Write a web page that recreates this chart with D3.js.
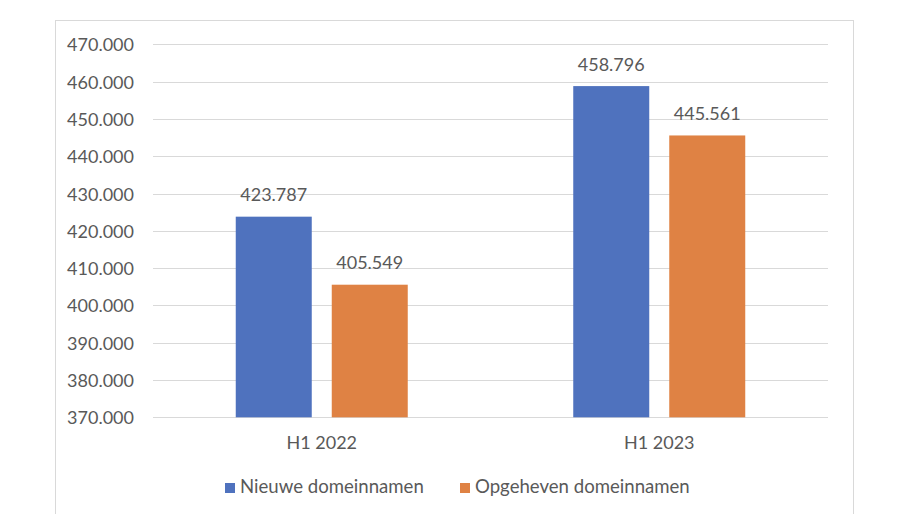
<!DOCTYPE html>
<html><head><meta charset="utf-8">
<script src="https://cdn.jsdelivr.net/npm/d3@7"></script>
<style>body{margin:0;background:#fff}svg{display:block}text{font-family:Lato,sans-serif;fill:#595959}</style>
</head><body>
<script>
const categories = ["H1 2022", "H1 2023"];
const seriesNames = ["Nieuwe domeinnamen", "Opgeheven domeinnamen"];
const nieuwe = [423787, 458796];
const opgeheven = [405549, 445561];
const yTicks = [370000, 380000, 390000, 400000, 410000, 420000, 430000, 440000, 450000, 460000, 470000];
const colors = ["#4F72BE", "#DF8244"];

const W = 914, H = 514;
const FS = "18px";
const svg = d3.select("body").append("svg").attr("width", W).attr("height", H);
svg.append("rect").attr("x", 55.5).attr("y", 20.5).attr("width", 798).attr("height", 520)
  .attr("fill", "#fff").attr("stroke", "#d9d9d9");

const x0 = d3.scaleBand().domain(categories).range([153, 828]).paddingInner(0).paddingOuter(0);
const y = d3.scaleLinear().domain([370000, 470000]).range([417.3, 44.3]);
const fmt = v => d3.format(",")(v).replace(/,/g, ".");

const grid = svg.append("g");
grid.selectAll("line").data(yTicks).join("line")
  .attr("x1", 153).attr("x2", 828).attr("y1", d => Math.round(y(d)) + 0.5).attr("y2", d => Math.round(y(d)) + 0.5)
  .attr("stroke", "#d9d9d9").attr("stroke-width", 1);

const yAxis = d3.axisLeft(y).tickValues(yTicks).tickFormat(fmt).tickSize(0).tickPadding(0);
const ya = svg.append("g").attr("transform", "translate(134,0)").call(yAxis);
ya.select(".domain").remove();
ya.selectAll("text").attr("dy", null).attr("y", 6.5).style("font-size", FS).attr("fill", "#595959").style("font-family", "Lato,sans-serif");

const xAxis = d3.axisBottom(x0).tickSize(0).tickPadding(0);
const xa = svg.append("g").attr("transform", "translate(0,449)").call(xAxis);
xa.select(".domain").remove();
xa.selectAll("text").attr("dy", null).attr("y", 0).style("font-size", FS).attr("fill", "#595959").style("font-family", "Lato,sans-serif");

const series = [nieuwe, opgeheven];
const barW = 76, gap = 20;
series.forEach((vals, si) => {
  const g = svg.append("g");
  const bx = (c) => x0(c) + x0.bandwidth() / 2 + (si === 0 ? -(gap / 2 + barW) : gap / 2);
  g.selectAll("rect").data(categories).join("rect")
    .attr("x", (c) => bx(c)).attr("width", barW)
    .attr("y", (c, i) => y(vals[i])).attr("height", (c, i) => y(370000) - y(vals[i]))
    .attr("fill", colors[si]);
  g.selectAll("text").data(categories).join("text")
    .attr("x", (c) => bx(c) + barW / 2).attr("y", (c, i) => y(vals[i]) - 15.5)
    .attr("text-anchor", "middle").style("font-size", FS)
    .text((c, i) => fmt(vals[i]));
});

const legend = svg.append("g");
const lx = [225, 460];
seriesNames.forEach((n, i) => {
  legend.append("rect").attr("x", lx[i]).attr("y", 483).attr("width", 10).attr("height", 10).attr("fill", colors[i]);
  legend.append("text").attr("x", lx[i] + 15).attr("y", 493).style("font-size", "18.6px").text(n);
});
</script>
</body></html>
